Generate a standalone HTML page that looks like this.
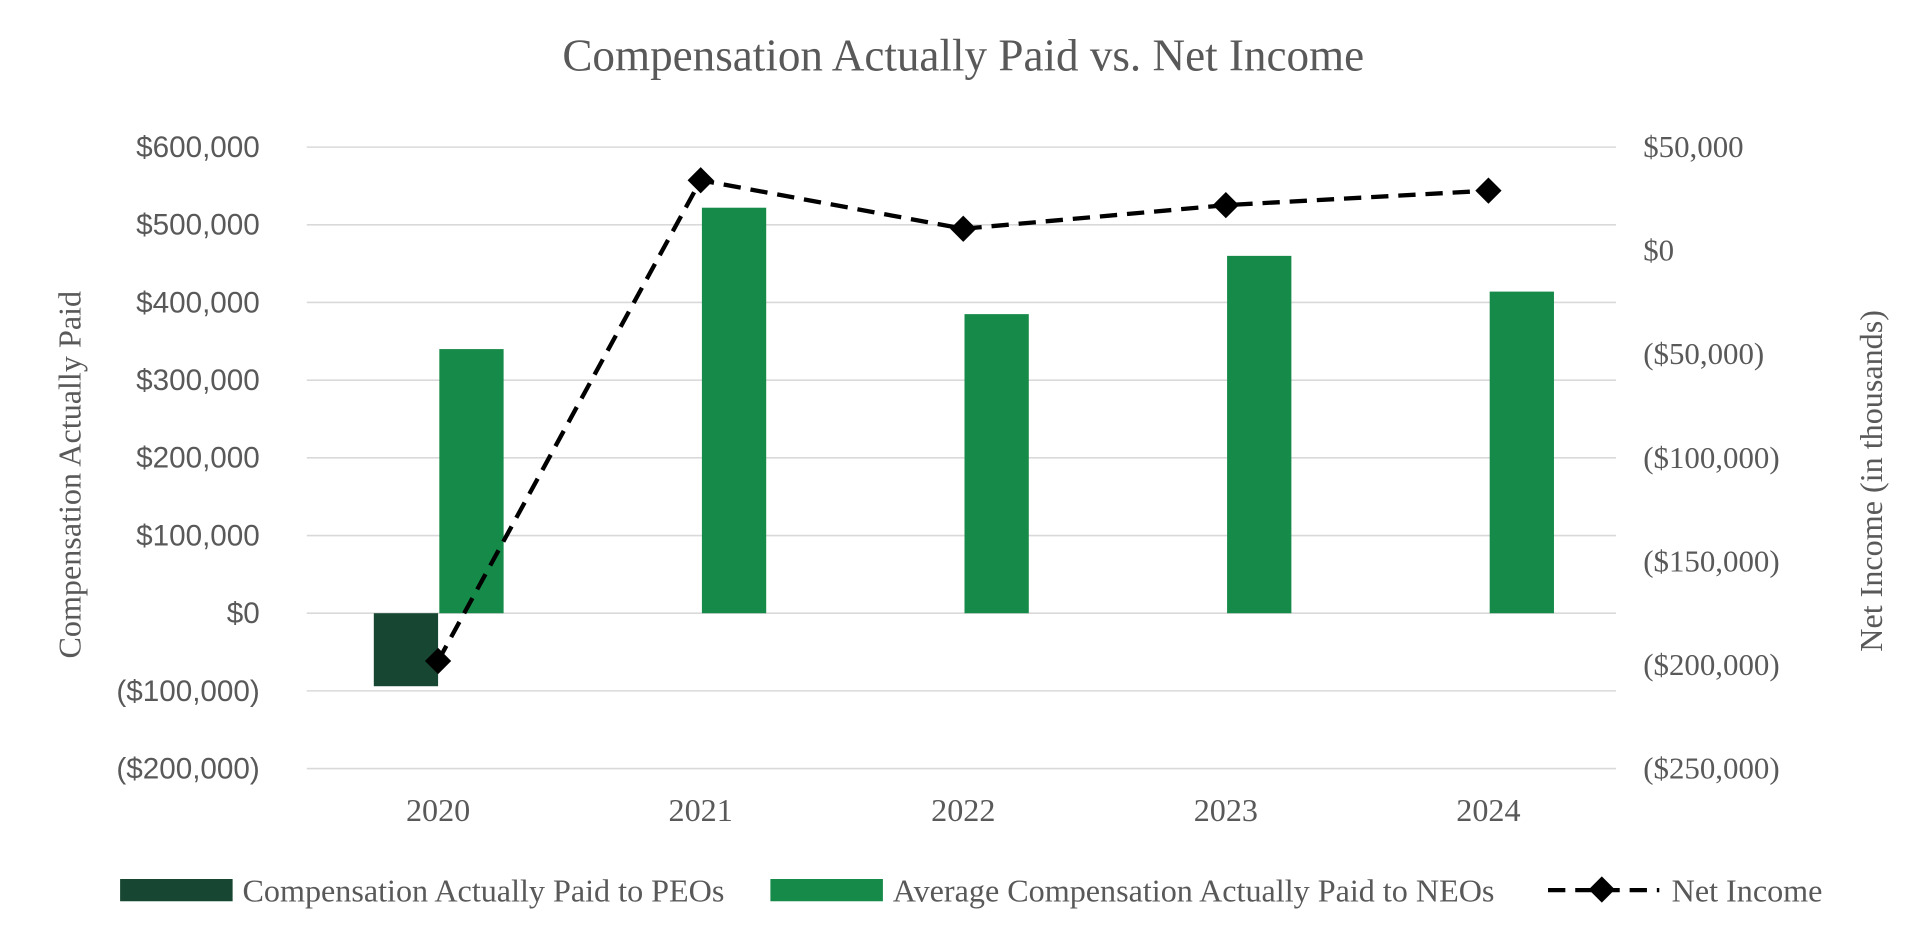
<!DOCTYPE html>
<html><head><meta charset="utf-8"><style>
html,body{margin:0;padding:0;background:#fff;}
svg{display:block;}
text{font-family:"Liberation Serif",serif;fill:#595959;}
text.tick{font-family:"Liberation Sans","DejaVu Sans",sans-serif;}
</style></head><body>
<svg id="chart" width="1929" height="947" viewBox="0 0 1560 766" xmlns="http://www.w3.org/2000/svg">
<text x="779" y="57" font-size="36.5" text-anchor="middle">Compensation Actually Paid vs. Net Income</text>
<g id="grid"></g><g id="bars"></g><g id="line"></g><g id="axes"></g>
<text transform="translate(65,384) rotate(-90)" font-size="26" text-anchor="middle">Compensation Actually Paid</text>
<text transform="translate(1522,389) rotate(-90)" font-size="26" text-anchor="middle">Net Income (in thousands)</text>
<g>
<rect x="97" y="711" width="91" height="18" fill="#174632"/>
<text x="196" y="729" font-size="26">Compensation Actually Paid to PEOs</text>
<rect x="623" y="711" width="91" height="18" fill="#168a48"/>
<text x="722" y="729" font-size="26">Average Compensation Actually Paid to NEOs</text>
<line x1="1252" y1="720" x2="1342" y2="720" stroke="#000" stroke-width="3.5" stroke-dasharray="14,8"/>
<rect x="1288" y="712" width="15" height="15" transform="rotate(45 1295.5 719.5)" fill="#000"/>
<text x="1352" y="729" font-size="26">Net Income</text>
</g>
</svg>
<script>
const categories=["2020","2021","2022","2023","2024"];
const peoValues=[-94000,0,0,0,0];
const neoValues=[340000,522000,385000,460000,414000];
const netIncome=[-198000,34000,10600,22000,29000];
const leftTicks=[600000,500000,400000,300000,200000,100000,0,-100000,-200000];
const rightTicks=[50000,0,-50000,-100000,-150000,-200000,-250000];
const NS="http://www.w3.org/2000/svg";
const x0=248,x1=1307,band=(1310-248)/categories.length;
const yL=v=>496-v*(377/600000);
const yR=v=>202.8-v*(83.8/50000);
const xc=i=>x0+band*(i+0.5);
function mk(tag,attrs,parent,txt){const e=document.createElementNS(NS,tag);for(const k in attrs)e.setAttribute(k,attrs[k]);if(txt!==undefined)e.textContent=txt;document.getElementById(parent).appendChild(e);return e;}
const fmt=v=>{const s="$"+Math.abs(v).toLocaleString("en-US");return v<0?"("+s+")":s;};
leftTicks.forEach(v=>{
 const g=mk("line",{x1:x0,x2:x1,y1:yL(v),y2:yL(v),stroke:"#d9d9d9","stroke-width":1.3},"grid");
 
 
 const t=mk("text",{x:210,y:yL(v)+8,"font-size":24,"text-anchor":"end",class:"tick"},"axes",fmt(v));
 
 
});
rightTicks.forEach(v=>{
 const t=mk("text",{x:1329,y:yR(v)+8,"font-size":25},"axes",fmt(v));
 
 
});
categories.forEach((c,i)=>{
 const t=mk("text",{x:xc(i),y:664,"font-size":26,"text-anchor":"middle"},"axes",c);
 
 
 const w=52;
 const p=peoValues[i];
 if(p!==0){const r=mk("rect",{x:xc(i)-w,y:Math.min(yL(p),yL(0)),width:w,height:Math.abs(yL(p)-yL(0)),fill:"#174632"},"bars");
 
 }
 const n=neoValues[i];
 const r2=mk("rect",{x:xc(i)+1,y:Math.min(yL(n),yL(0)),width:w,height:Math.abs(yL(n)-yL(0)),fill:"#168a48"},"bars");
 
 
});
const pts=netIncome.map((v,i)=>xc(i)+","+yR(v)).join(" ");
const pl=mk("polyline",{points:pts,fill:"none",stroke:"#000","stroke-width":3.5,"stroke-dasharray":"14,8"},"line");


netIncome.forEach((v,i)=>{
 const m=mk("rect",{x:xc(i)-7.5,y:yR(v)-7.5,width:15,height:15,fill:"#000",transform:`rotate(45 ${xc(i)} ${yR(v)})`},"line");
 
 
});
</script>
</body></html>
